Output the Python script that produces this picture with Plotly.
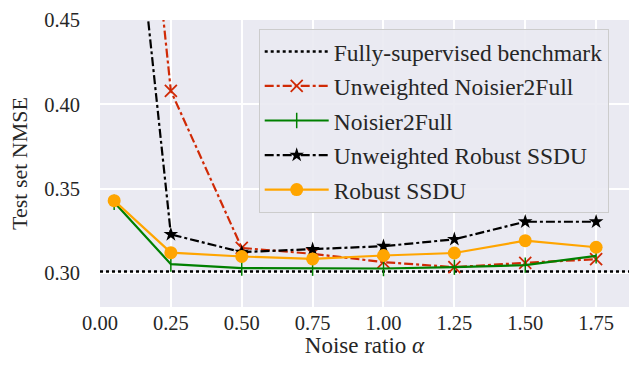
import plotly.graph_objects as go

alpha = [0.05, 0.25, 0.50, 0.75, 1.00, 1.25, 1.50, 1.75]
benchmark = 0.301
unw_n2f = [0.73, 0.408, 0.315, 0.3115, 0.3066, 0.3036, 0.3062, 0.3083]
n2f = [0.342, 0.3054, 0.303, 0.303, 0.3028, 0.3036, 0.3048, 0.3103]
unw_rssdu = [0.64, 0.323, 0.3125, 0.3142, 0.3160, 0.3201, 0.3305, 0.3305]
rssdu = [0.343, 0.3122, 0.3099, 0.3085, 0.3105, 0.3120, 0.3193, 0.3154]
x_ticks = [0.00, 0.25, 0.50, 0.75, 1.00, 1.25, 1.50, 1.75]
y_ticks = [0.30, 0.35, 0.40, 0.45]

FONT = "Liberation Serif, Times New Roman, Times, serif"
TXT = "#262626"

fig = go.Figure()
fig.add_trace(go.Scatter(
    x=[0.0, 1.9], y=[benchmark, benchmark], mode="lines",
    line=dict(color="black", width=2.5, dash="dot"),
    name="Fully-supervised benchmark", legendgroup="a"))
fig.add_trace(go.Scatter(
    x=alpha, y=unw_n2f, mode="lines+markers",
    line=dict(color="#d02a06", width=2.2, dash="dashdot"),
    marker=dict(symbol="x-thin", size=12, line=dict(color="#d02a06", width=1.8)),
    name="Unweighted Noisier2Full", legendgroup="b"))
fig.add_trace(go.Scatter(
    x=alpha, y=n2f, mode="lines+markers",
    line=dict(color="green", width=2.2),
    marker=dict(symbol="line-ns", size=11, line=dict(color="green", width=1.5)),
    name="Noisier2Full", legendgroup="c"))
fig.add_trace(go.Scatter(
    x=alpha, y=unw_rssdu, mode="lines+markers",
    line=dict(color="black", width=2.2, dash="dashdot"),
    marker=dict(symbol="star", size=11, color="black"),
    name="Unweighted Robust SSDU", legendgroup="d"))
fig.add_trace(go.Scatter(
    x=alpha, y=rssdu, mode="lines+markers",
    line=dict(color="orange", width=2.2),
    marker=dict(symbol="circle", size=13, color="orange"),
    name="Robust SSDU", legendgroup="e"))

fig.update_layout(
    width=629, height=373,
    margin=dict(l=100, r=0, t=20, b=66, autoexpand=False),
    paper_bgcolor="white", plot_bgcolor="#EAEAF2",
    font=dict(family=FONT, size=20, color=TXT),
    showlegend=True,
    legend=dict(
        x=0.30, y=0.970, xanchor="left", yanchor="top",
        bgcolor="rgba(234,234,242,0.9)", bordercolor="#CCCCCC", borderwidth=1,
        font=dict(family=FONT, size=23.5, color=TXT),
        tracegroupgap=1, itemwidth=64,
    ),
)
fig.update_xaxes(
    range=[0.0, 1.866], tickvals=x_ticks, ticktext=[f"{v:.2f}" for v in x_ticks],
    showgrid=True, gridcolor="white", gridwidth=1.5, zeroline=False, showline=False,
    ticks="", automargin=False, ticklabelstandoff=1,
    tickfont=dict(family=FONT, size=20.5, color=TXT),
    title=dict(text="Noise ratio <i>α</i>", font=dict(family=FONT, size=23, color=TXT), standoff=4),
)
fig.update_yaxes(
    range=[0.28, 0.45], tickvals=y_ticks, ticktext=[f"{v:.2f}" for v in y_ticks],
    showgrid=True, gridcolor="white", gridwidth=1.5, zeroline=False, showline=False,
    ticks="", automargin=False, ticklabelstandoff=19,
    tickfont=dict(family=FONT, size=20.5, color=TXT),
    title=dict(text="Test set NMSE", font=dict(family=FONT, size=22, color=TXT), standoff=10),
)

fig.write_html("out.html", config={"displayModeBar": False},
               post_script="document.body.style.margin='0';")
